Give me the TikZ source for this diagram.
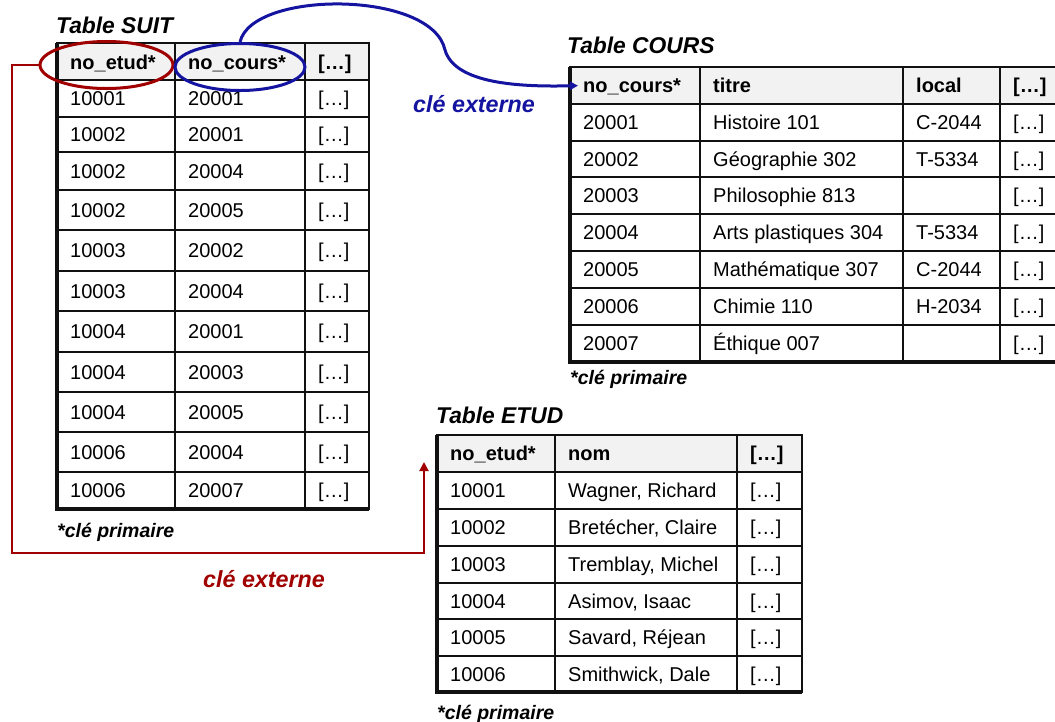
\documentclass[tikz,border=0pt]{standalone}
\usepackage{fontspec}
\setmainfont{Liberation Sans}
\usepackage{xcolor}
\usepackage{tikz}
\usetikzlibrary{arrows.meta,shapes.geometric,positioning}
\definecolor{Ink}{HTML}{111111}
\definecolor{HeadFill}{HTML}{F2F2F2}
\definecolor{KeyRed}{HTML}{A00000}
\definecolor{KeyBlue}{HTML}{1414A0}

\tikzset{
  cell/.style={anchor=west,inner sep=0pt,text height=14.3pt,text depth=0pt,
    font=\fontsize{20}{24}\selectfont},
  headcell/.style={cell,font=\fontsize{20}{24}\selectfont\bfseries},
  tabtitle/.style={anchor=base west,inner sep=0pt,
    font=\fontsize{22.8}{27}\selectfont\bfseries\itshape},
  keynote/.style={anchor=base west,inner sep=0pt,
    font=\fontsize{19.5}{23}\selectfont\bfseries\itshape},
  extlabel/.style={anchor=base west,inner sep=0pt,
    font=\fontsize{23.3}{27}\selectfont\bfseries\itshape},
  thinrule/.style={Ink,line width=1.3pt},
  framerule/.style={Ink,line width=1.8pt},
  thickrule/.style={Ink,line width=3.2pt},
  keyring/.style={draw,ellipse,line width=3pt,inner sep=0pt},
}

\begin{document}
\begin{tikzpicture}[x=1pt,y=-1pt,>=Latex]
  \useasboundingbox (0,0) rectangle (1055,721);

  % Table SUIT
  \node[tabtitle] (suit-title) at (56,33) {Table SUIT};
  \fill[HeadFill] (57,43) rectangle (369,80);
  \foreach \y in {80,117,152,190,230,271,311,352,392,432,472}
    \draw[thinrule] (57,\y) -- (369,\y);
  \foreach \x in {175,305}
    \draw[thinrule] (\x,43) -- (\x,509);
  \draw[framerule] (57,43) rectangle (369,509);
  \draw[thickrule] (57,43) -- (57,509) -- (369,509);
  \node[headcell] (suit-h1) at (70,62) {no\_etud*};
  \node[headcell] (suit-h2) at (188,62) {no\_cours*};
  \node[headcell] (suit-h3) at (318,62) {[…]};
  \foreach \y/\a/\b [count=\i] in {98.5/10001/20001,134.5/10002/20001,171/10002/20004,
      210/10002/20005,250.5/10003/20002,291/10003/20004,331.5/10004/20001,
      372/10004/20003,412/10004/20005,452/10006/20004,490.5/10006/20007} {
    \node[cell] (suit-\i-1) at (70,\y) {\a};
    \node[cell] (suit-\i-2) at (188,\y) {\b};
    \node[cell] (suit-\i-3) at (318,\y) {[…]};
  }
  \node[keynote] (suit-note) at (57,537) {*clé primaire};

  % Table COURS
  \node[tabtitle] (cours-title) at (567,53) {Table COURS};
  \fill[HeadFill] (570,67) rectangle (1058,104);
  \foreach \y in {104,141,177,214,251,288,325}
    \draw[thinrule] (570,\y) -- (1058,\y);
  \foreach \x in {700,903,1000}
    \draw[thinrule] (\x,67) -- (\x,362);
  \draw[framerule] (570,67) rectangle (1058,362);
  \draw[thickrule] (570,67) -- (570,362) -- (1058,362);
  \node[headcell] (cours-h1) at (583,85.5) {no\_cours*};
  \node[headcell] (cours-h2) at (713,85.5) {titre};
  \node[headcell] (cours-h3) at (916,85.5) {local};
  \node[headcell] (cours-h4) at (1013,85.5) {[…]};
  \foreach \y/\a/\b/\c [count=\i] in {122.5/20001/Histoire 101/C-2044,
      159/20002/Géographie 302/T-5334,195.5/20003/Philosophie 813/,
      232.5/20004/Arts plastiques 304/T-5334,269.5/20005/Mathématique 307/C-2044,
      306.5/20006/Chimie 110/H-2034,343.5/20007/Éthique 007/} {
    \node[cell] (cours-\i-1) at (583,\y) {\a};
    \node[cell] (cours-\i-2) at (713,\y) {\b};
    \node[cell] (cours-\i-3) at (916,\y) {\c};
    \node[cell] (cours-\i-4) at (1013,\y) {[…]};
  }
  \node[keynote] (cours-note) at (570,384) {*clé primaire};

  % Table ETUD
  \node[tabtitle] (etud-title) at (436,423) {Table ETUD};
  \fill[HeadFill] (437,435) rectangle (802,472);
  \foreach \y in {472,509,546,583,619,656}
    \draw[thinrule] (437,\y) -- (802,\y);
  \foreach \x in {555,737}
    \draw[thinrule] (\x,435) -- (\x,692);
  \draw[framerule] (437,435) rectangle (802,692);
  \draw[thickrule] (437,435) -- (437,692) -- (802,692);
  \node[headcell] (etud-h1) at (450,453.5) {no\_etud*};
  \node[headcell] (etud-h2) at (568,453.5) {nom};
  \node[headcell] (etud-h3) at (750,453.5) {[…]};
  \foreach \y/\a/\b [count=\i] in {490.5/10001/{Wagner, Richard},
      527.5/10002/{Bretécher, Claire},564.5/10003/{Tremblay, Michel},
      601/10004/{Asimov, Isaac},637.5/10005/{Savard, Réjean},
      674/10006/{Smithwick, Dale}} {
    \node[cell] (etud-\i-1) at (450,\y) {\a};
    \node[cell] (etud-\i-2) at (568,\y) {\b};
    \node[cell] (etud-\i-3) at (750,\y) {[…]};
  }
  \node[keynote] (etud-note) at (437,719) {*clé primaire};

  % foreign keys
  \node[keyring,KeyRed,minimum width=133pt,minimum height=47pt] (etudkey) at (106.5,65) {};
  \node[keyring,KeyBlue,minimum width=130pt,minimum height=47pt] (courskey) at (240,67) {};
  \coordinate (redcorner) at (12,553);
  \coordinate (etudtip) at (424,462);
  \draw[KeyRed,line width=2pt,-{Triangle[length=9pt,width=9pt]}]
    (etudkey.west) -| (redcorner) -| (etudtip);
  \node[extlabel,KeyRed] (etud-fk) at (203,587) {clé externe};
  \draw[KeyBlue,line width=3pt,-{Triangle[length=8pt,width=8pt]},shorten >=5pt]
    (courskey.north) .. controls (252,-10) and (432,-10) .. (445,50)
    .. controls (455,84) and (520,87) .. (cours-h1.west);
  \node[extlabel,KeyBlue] (cours-fk) at (413,112) {clé externe};
\end{tikzpicture}
\end{document}
